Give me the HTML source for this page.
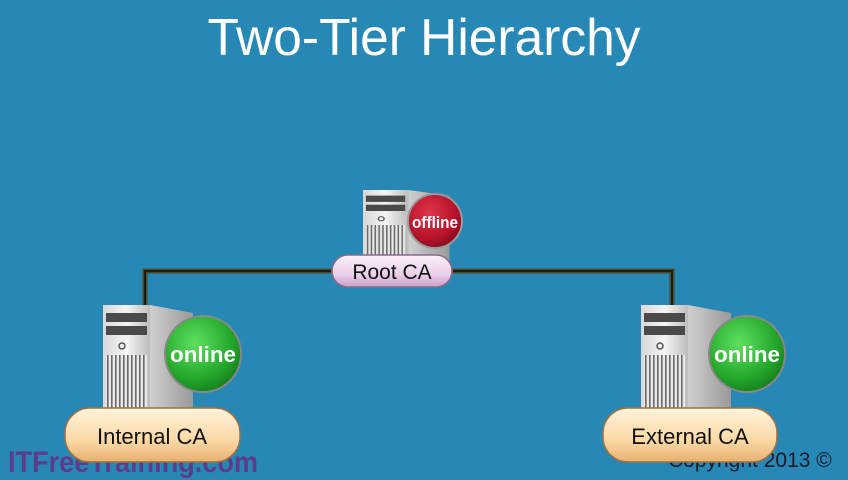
<!DOCTYPE html>
<html><head><meta charset="utf-8"><style>
html,body{margin:0;padding:0;background:#2788b6;}
svg{display:block;}
text{font-family:"Liberation Sans",sans-serif;}
</style></head><body>
<svg width="848" height="480" viewBox="0 0 848 480" xmlns="http://www.w3.org/2000/svg">
<defs>
<linearGradient id="front" x1="0" x2="1">
<stop offset="0" stop-color="#d8d8d8"/><stop offset="0.5" stop-color="#f4f4f4"/><stop offset="1" stop-color="#bdbdbd"/>
</linearGradient>
<linearGradient id="side" x1="0" x2="1">
<stop offset="0" stop-color="#cfcfcf"/><stop offset="1" stop-color="#9a9a9a"/>
</linearGradient>
<radialGradient id="green" cx="0.4" cy="0.35" r="0.7">
<stop offset="0" stop-color="#5fe060"/><stop offset="0.7" stop-color="#22a52a"/><stop offset="1" stop-color="#157a1c"/>
</radialGradient>
<radialGradient id="red" cx="0.4" cy="0.35" r="0.7">
<stop offset="0" stop-color="#e0354a"/><stop offset="0.7" stop-color="#b5122a"/><stop offset="1" stop-color="#7d0a1c"/>
</radialGradient>
<linearGradient id="peach" x1="0" y1="0" x2="0" y2="1">
<stop offset="0" stop-color="#fff3dc"/><stop offset="0.6" stop-color="#fbd9a5"/><stop offset="1" stop-color="#e6b070"/>
</linearGradient>
<linearGradient id="pink" x1="0" y1="0" x2="0" y2="1">
<stop offset="0" stop-color="#fdf1fb"/><stop offset="0.6" stop-color="#ead0ea"/><stop offset="1" stop-color="#c8a0c8"/>
</linearGradient>
<pattern id="grill" width="4" height="10" patternUnits="userSpaceOnUse">
<rect width="4" height="10" fill="#e8e8e8"/><rect width="1.6" height="10" fill="#6a6a6a"/>
</pattern>
<g id="srv">
<path d="M47 0 L90 8 L90 105 L47 105 Z" fill="url(#side)"/>
<rect x="0" y="0" width="47" height="105" fill="url(#front)"/>
<rect x="3" y="8" width="41" height="9" fill="#4a4a4a"/>
<rect x="3" y="21" width="41" height="9" fill="#4a4a4a"/>
<circle cx="19" cy="41" r="3" fill="none" stroke="#555" stroke-width="1.5"/>
<rect x="3" y="50" width="41" height="55" fill="url(#grill)"/>
</g>
</defs>
<rect width="848" height="480" fill="#2788b6"/>
<text x="424" y="55" text-anchor="middle" font-size="52" fill="#fff" textLength="433" lengthAdjust="spacingAndGlyphs">Two-Tier Hierarchy</text>

<path d="M145 305 L145 271 L672 271 L672 305" fill="none" stroke="#4b4a2a" stroke-width="5"/>
<path d="M145 305 L145 271 L672 271 L672 305" fill="none" stroke="#1d1d12" stroke-width="2"/>

<!-- root -->
<g transform="translate(363,190) scale(0.96,0.7)"><use href="#srv"/></g>
<circle cx="435" cy="221" r="27" fill="url(#red)" stroke="#999" stroke-width="2"/>
<text x="435" y="228" text-anchor="middle" font-size="17" font-weight="bold" fill="#fff" textLength="46" lengthAdjust="spacingAndGlyphs">offline</text>
<rect x="332" y="255" width="120" height="32" rx="16" fill="url(#pink)" stroke="#8a6a8a" stroke-width="1.5"/>
<text x="392" y="279" text-anchor="middle" font-size="21" fill="#111">Root CA</text>

<text x="8" y="472" font-size="30" font-weight="bold" fill="#5b3d8c" textLength="250" lengthAdjust="spacingAndGlyphs">ITFreeTraining.com</text>

<!-- left -->
<g transform="translate(103,305)"><use href="#srv"/></g>
<circle cx="203" cy="354" r="38" fill="url(#green)" stroke="#888" stroke-width="2"/>
<text x="203" y="362" text-anchor="middle" font-size="22" font-weight="bold" fill="#fff" textLength="66" lengthAdjust="spacingAndGlyphs">online</text>
<rect x="65" y="408" width="175" height="54" rx="25" fill="url(#peach)" stroke="#a07040" stroke-width="1.5"/>
<text x="152" y="444" text-anchor="middle" font-size="22" fill="#111">Internal CA</text>

<!-- right -->
<g transform="translate(641,305)"><use href="#srv"/></g>
<circle cx="747" cy="354" r="38" fill="url(#green)" stroke="#888" stroke-width="2"/>
<text x="747" y="362" text-anchor="middle" font-size="22" font-weight="bold" fill="#fff" textLength="66" lengthAdjust="spacingAndGlyphs">online</text>
<text x="668" y="467" font-size="21" fill="#1a1a2a">Copyright 2013 ©</text>
<rect x="603" y="408" width="174" height="54" rx="25" fill="url(#peach)" stroke="#a07040" stroke-width="1.5"/>
<text x="690" y="444" text-anchor="middle" font-size="22" fill="#111">External CA</text>
</svg>
</body></html>
